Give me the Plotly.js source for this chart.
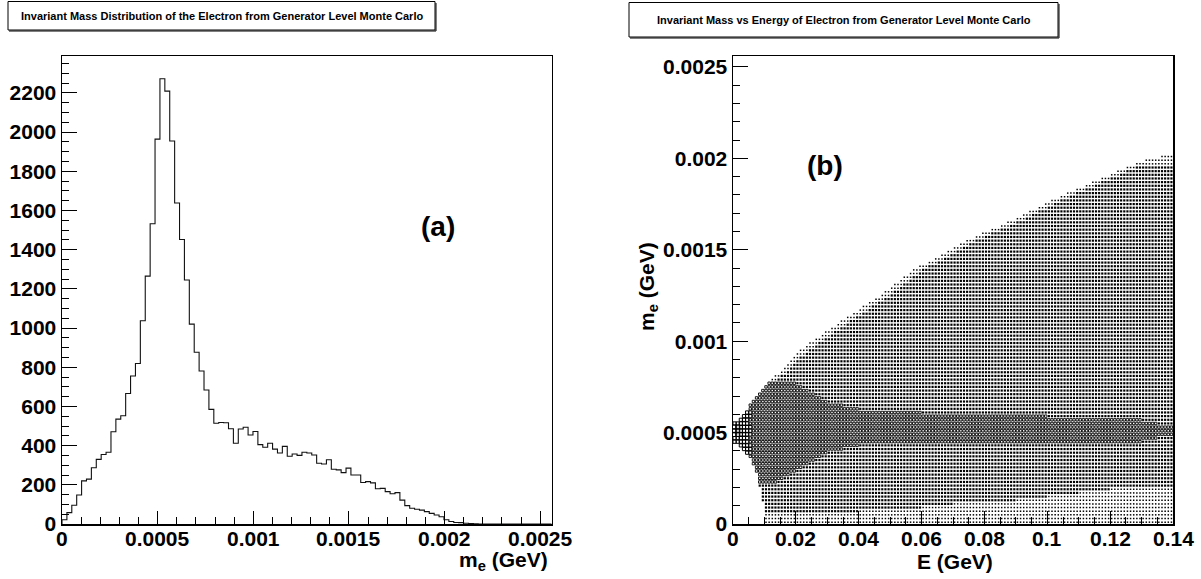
<!DOCTYPE html>
<html>
<head>
<meta charset="utf-8">
<script src="https://cdn.plot.ly/plotly-3.0.1.min.js"></script>
<style>html,body{margin:0;padding:0;background:#fff;}#chart{width:1201px;height:579px;}</style>
</head>
<body>
<div id="chart"></div>
<script>
// ---------- Panel (a): invariant mass histogram ----------
const massBinWidth = 0.0000256;   // 100 bins from 0 to 0.00256 GeV
const massCounts = [
  22, 58, 96, 148, 220, 229, 287, 330, 355, 366,
  471, 535, 552, 666, 755, 819, 1037, 1265, 1532, 1964,
  2272, 2209, 1954, 1638, 1452, 1245, 1020, 876, 781, 684,
  585, 514, 518, 517, 486, 412, 485, 494, 454, 472,
  405, 392, 412, 382, 362, 396, 346, 357, 350, 366,
  362, 352, 310, 306, 328, 279, 276, 262, 285, 250,
  250, 212, 216, 210, 180, 182, 165, 154, 160, 122,
  94, 80, 75, 71, 63, 54, 46, 37, 22, 13,
  8, 7, 4, 2, 1, 0, 0, 0, 0, 0,
  0, 0, 0, 0, 0, 0, 0, 0, 0, 0
];
const histXTicks = [0, 0.0005, 0.001, 0.0015, 0.002, 0.0025];
const histXLabels = ["0", "0.0005", "0.001", "0.0015", "0.002", "0.0025"];
const histYTicks = [0, 200, 400, 600, 800, 1000, 1200, 1400, 1600, 1800, 2000, 2200];
const histYLabels = ["0", "200", "400", "600", "800", "1000", "1200", "1400", "1600", "1800", "2000", "2200"];

// ---------- Panel (b): mass vs energy, box-drawn 2D histogram ----------
const energyBinWidth = 0.001;     // 140 bins from 0 to 0.14 GeV
const mass2BinWidth = 0.00002;    // mass bins from 0 upward
// Each row (one mass bin, from m = 0 upward): [startBin, level, nextBin, level, ..., endBin]
// level = box size (1 tiny dot ... 5 largest box)
const boxRows = [
  [10,1,140],
  [10,1,140],
  [10,1,140],
  [10,2,40,1,140],
  [10,2,60,1,140],
  [10,2,70,1,140],
  [9,2,90,1,140],
  [9,2,100,1,140],
  [9,2,110,1,140],
  [9,2,120,1,140],
  [8,2,140],
  [8,3,14,2,140],
  [8,3,16,2,140],
  [8,3,18,2,140],
  [7,3,20,2,140],
  [7,3,22,2,140],
  [6,3,24,2,140],
  [6,3,26,2,140],
  [5,3,28,2,140],
  [4,4,6,3,30,2,140],
  [3,4,6,3,35,2,140],
  [2,4,6,3,40,2,140],
  [0,4,5,3,130,2,140],
  [0,4,5,3,135,2,140],
  [0,5,2,4,6,3,140],
  [0,5,2,4,6,3,140],
  [0,5,2,4,6,3,140],
  [0,4,5,3,135,2,140],
  [2,4,5,3,130,2,140],
  [3,4,6,3,100,2,140],
  [4,4,6,3,60,2,140],
  [5,3,40,2,140],
  [5,3,35,2,140],
  [6,3,30,2,140],
  [7,3,28,2,140],
  [8,3,26,2,140],
  [9,3,24,2,140],
  [10,3,22,2,140],
  [11,3,20,2,140],
  [12,1,14,2,140],
  [13,1,15,2,140],
  [15,1,17,2,140],
  [16,1,18,2,140],
  [17,1,19,2,140],
  [18,1,20,2,140],
  [19,1,21,2,140],
  [20,1,23,2,140],
  [21,1,24,2,140],
  [23,1,26,2,140],
  [24,1,27,2,140],
  [26,1,29,2,140],
  [28,1,31,2,140],
  [29,1,32,2,140],
  [31,1,34,2,140],
  [33,1,36,2,140],
  [34,1,37,2,140],
  [36,1,39,2,140],
  [38,1,41,2,140],
  [40,1,43,2,140],
  [41,1,44,2,140],
  [43,1,46,2,140],
  [45,1,48,2,140],
  [47,1,50,2,140],
  [48,1,51,2,140],
  [50,1,53,2,140],
  [51,1,54,2,140],
  [53,1,56,2,140],
  [54,1,57,2,140],
  [56,1,59,2,140],
  [57,1,60,2,140],
  [59,1,62,2,140],
  [62,1,65,2,140],
  [64,1,67,2,140],
  [66,1,69,2,140],
  [68,1,71,2,140],
  [70,1,73,2,140],
  [72,1,75,2,140],
  [74,1,77,2,140],
  [77,1,80,2,140],
  [79,1,82,2,140],
  [82,1,85,2,140],
  [85,1,88,2,140],
  [87,1,90,2,140],
  [90,1,93,2,140],
  [92,1,95,2,140],
  [94,1,97,2,140],
  [97,1,100,2,140],
  [99,1,102,2,140],
  [101,1,104,2,140],
  [104,1,107,2,140],
  [106,1,109,2,140],
  [109,1,112,2,140],
  [112,1,115,2,140],
  [114,1,117,2,140],
  [117,1,120,2,140],
  [120,1,123,2,140],
  [122,1,125,2,140],
  [125,1,128,2,140],
  [128,1,140],
  [131,1,140],
  [136,1,140]
];
const scatXTicks = [0, 0.02, 0.04, 0.06, 0.08, 0.1, 0.12, 0.14];
const scatXLabels = ["0", "0.02", "0.04", "0.06", "0.08", "0.1", "0.12", "0.14"];
const scatYTicks = [0, 0.0005, 0.001, 0.0015, 0.002, 0.0025];
const scatYLabels = ["0", "0.0005", "0.001", "0.0015", "0.002", "0.0025"];

const titleA = "Invariant Mass Distribution of the Electron from Generator Level Monte Carlo";
const titleB = "Invariant Mass vs Energy of Electron from Generator Level Monte Carlo";

// ---------- build traces ----------
const W = 1201, H = 579;
const px = v => v / W;
const py = v => 1 - v / H;

const hx = [0], hy = [0];
for (let k = 0; k < massCounts.length; k++) { hx.push(k * massBinWidth); hy.push(massCounts[k]); }
hx.push(massCounts.length * massBinWidth); hy.push(massCounts[massCounts.length - 1]);

const histTrace = {
  type: 'scatter', mode: 'lines', x: hx, y: hy, xaxis: 'x', yaxis: 'y',
  line: {shape: 'hv', color: '#111', width: 1.1}, hoverinfo: 'skip', showlegend: false
};

const levelStyle = {
  1: {symbol: 'square', size: 1.5, lw: 0},
  2: {symbol: 'square', size: 2.2, lw: 0},
  3: {symbol: 'square-open', size: 2.4, lw: 0.9},
  4: {symbol: 'square-open', size: 3.2, lw: 1},
  5: {symbol: 'square-open', size: 4.2, lw: 1}
};
const pts = {1: {x: [], y: []}, 2: {x: [], y: []}, 3: {x: [], y: []}, 4: {x: [], y: []}, 5: {x: [], y: []}};
boxRows.forEach((row, j) => {
  for (let p = 0; p + 2 < row.length; p += 2) {
    const start = row[p], level = row[p + 1], stop = row[p + 2];
    for (let i = start; i < stop; i++) {
      pts[level].x.push((i + 0.5) * energyBinWidth);
      pts[level].y.push((j + 0.5) * mass2BinWidth);
    }
  }
});
const boxTraces = Object.keys(pts).map(l => ({
  type: 'scatter', mode: 'markers', x: pts[l].x, y: pts[l].y, xaxis: 'x2', yaxis: 'y2',
  marker: {symbol: levelStyle[l].symbol, size: levelStyle[l].size, color: '#000',
           line: {width: levelStyle[l].lw, color: '#000'}},
  hoverinfo: 'skip', showlegend: false, cliponaxis: true
}));

const fontFam = 'Liberation Sans, Arial, Helvetica, sans-serif';
const tickFont = {family: fontFam, size: 21, color: '#000', weight: 'bold'};
const yDom = [(H - 524) / H, (H - 56) / H];

function axis(extra) {
  return Object.assign({
    showgrid: false, zeroline: false, showline: true, linecolor: '#000', linewidth: 1.5,
    mirror: true, ticks: 'inside', tickcolor: '#000', tickwidth: 1, tickmode: 'array',
    tickfont: tickFont, fixedrange: true
  }, extra);
}

// x tick labels drawn as text placed through the x axes' own scales
const tickAnns = [];
histXTicks.forEach((v, k) => tickAnns.push({xref: 'x', yref: 'paper', x: v, y: py(538), xanchor: 'center', yanchor: 'middle',
  showarrow: false, text: histXLabels[k], font: tickFont}));
scatXTicks.forEach((v, k) => tickAnns.push({xref: 'x2', yref: 'paper', x: v, y: py(538), xanchor: 'center', yanchor: 'middle',
  showarrow: false, text: scatXLabels[k], font: tickFont}));

const layout = {
  width: W, height: H, margin: {l: 0, r: 0, t: 0, b: 0},
  paper_bgcolor: '#fff', plot_bgcolor: '#fff', showlegend: false,
  xaxis: axis({domain: [px(62), px(551.7)], range: [0, 0.00256], anchor: 'y',
    tickvals: histXTicks, ticktext: histXLabels, ticklen: 13, showticklabels: false,
    minor: {tickmode: 'linear', tick0: 0, dtick: 0.0001, ticks: 'inside', ticklen: 7, tickcolor: '#000', tickwidth: 1}}),
  yaxis: axis({domain: yDom, range: [0, 2388], anchor: 'x',
    tickvals: histYTicks, ticktext: histYLabels, ticklen: 15,
    minor: {tickmode: 'linear', tick0: 0, dtick: 50, ticks: 'inside', ticklen: 7, tickcolor: '#000', tickwidth: 1}}),
  xaxis2: axis({domain: [px(733), px(1173)], range: [0, 0.14], anchor: 'y2',
    tickvals: scatXTicks, ticktext: scatXLabels, ticklen: 13, showticklabels: false,
    minor: {tickmode: 'linear', tick0: 0, dtick: 0.005, ticks: 'inside', ticklen: 7, tickcolor: '#000', tickwidth: 1}}),
  yaxis2: axis({domain: yDom, range: [0, 0.00256], anchor: 'x2',
    tickvals: scatYTicks, ticktext: scatYLabels, ticklen: 15,
    minor: {tickmode: 'linear', tick0: 0, dtick: 0.0001, ticks: 'inside', ticklen: 7, tickcolor: '#000', tickwidth: 1}}),
  shapes: [
    {type: 'rect', xref: 'paper', yref: 'paper', x0: px(8), x1: px(435), y0: py(30), y1: py(1.5), line: {color: '#000', width: 1}, fillcolor: '#fff', layer: 'above'},
    {type: 'line', xref: 'paper', yref: 'paper', x0: px(436), x1: px(436), y0: py(31), y1: py(3), line: {color: '#000', width: 1}},
    {type: 'line', xref: 'paper', yref: 'paper', x0: px(9), x1: px(436), y0: py(31), y1: py(31), line: {color: '#000', width: 1}},
    {type: 'rect', xref: 'paper', yref: 'paper', x0: px(629), x1: px(1058), y0: py(37), y1: py(2.5), line: {color: '#000', width: 1}, fillcolor: '#fff', layer: 'above'},
    {type: 'line', xref: 'paper', yref: 'paper', x0: px(1059), x1: px(1059), y0: py(38), y1: py(4), line: {color: '#000', width: 1}},
    {type: 'line', xref: 'paper', yref: 'paper', x0: px(630), x1: px(1059), y0: py(38), y1: py(38), line: {color: '#000', width: 1}}
  ],
  annotations: tickAnns.concat([
    {xref: 'paper', yref: 'paper', x: px(221.5), y: py(16), xanchor: 'center', yanchor: 'middle', showarrow: false,
     text: titleA, font: {family: fontFam, size: 11, color: '#000', weight: 'bold'}},
    {xref: 'paper', yref: 'paper', x: px(843.5), y: py(19.5), xanchor: 'center', yanchor: 'middle', showarrow: false,
     text: titleB, font: {family: fontFam, size: 11, color: '#000', weight: 'bold'}},
    {xref: 'paper', yref: 'paper', x: px(550), y: py(561), xanchor: 'right', yanchor: 'middle', showarrow: false,
     text: 'm<sub>e</sub> (GeV)', font: {family: fontFam, size: 21, color: '#000', weight: 'bold'}},
    {xref: 'paper', yref: 'paper', x: px(955), y: py(561), xanchor: 'center', yanchor: 'middle', showarrow: false,
     text: 'E (GeV)', font: {family: fontFam, size: 21, color: '#000', weight: 'bold'}},
    {xref: 'paper', yref: 'paper', x: px(648), y: py(287), xanchor: 'center', yanchor: 'middle', showarrow: false, textangle: -90,
     text: 'm<sub>e</sub> (GeV)', font: {family: fontFam, size: 21, color: '#000', weight: 'bold'}},
    {xref: 'paper', yref: 'paper', x: px(438), y: py(226), xanchor: 'center', yanchor: 'middle', showarrow: false,
     text: '(a)', font: {family: fontFam, size: 28, color: '#000', weight: 'bold'}},
    {xref: 'paper', yref: 'paper', x: px(825), y: py(165), xanchor: 'center', yanchor: 'middle', showarrow: false,
     text: '(b)', font: {family: fontFam, size: 28, color: '#000', weight: 'bold'}}
  ])
};

Plotly.newPlot('chart', [histTrace].concat(boxTraces), layout, {staticPlot: true, displayModeBar: false});
</script>
</body>
</html>
